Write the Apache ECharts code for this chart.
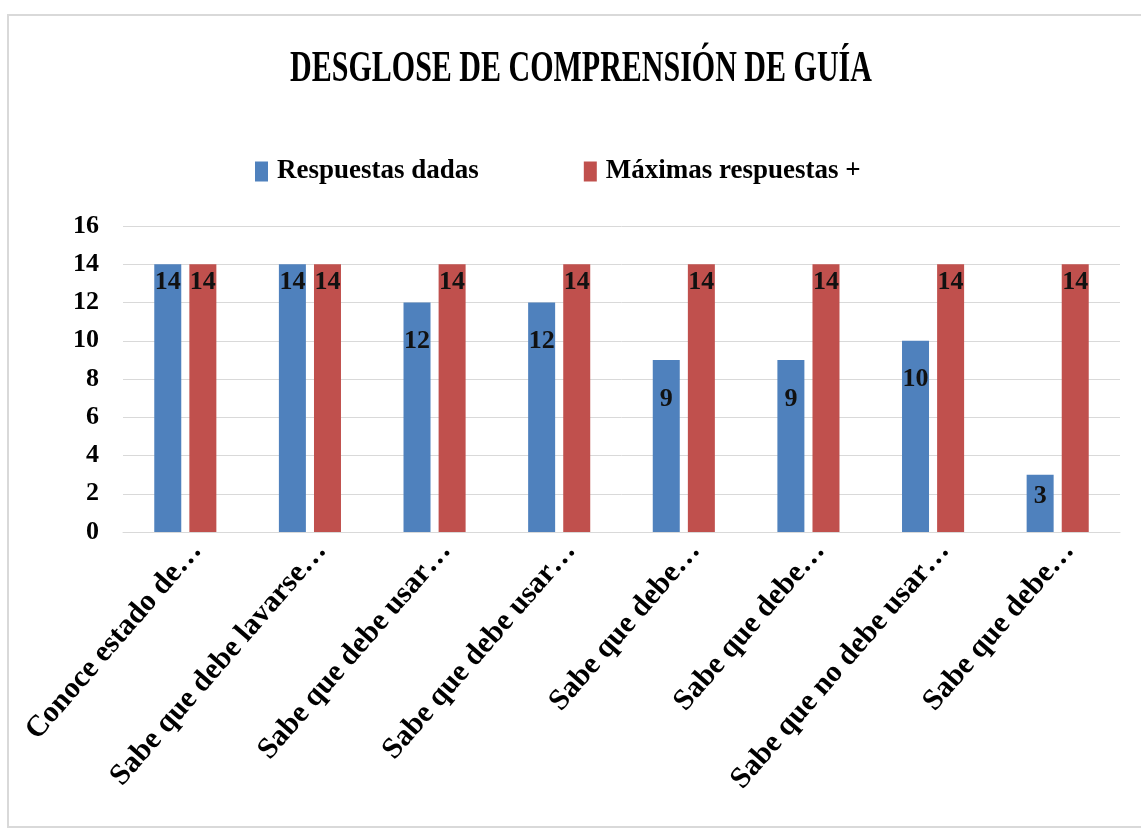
<!DOCTYPE html>
<html>
<head>
<meta charset="utf-8">
<title>Desglose de comprensión de guía</title>
<script src="https://cdn.jsdelivr.net/npm/echarts@6/dist/echarts.min.js"></script>
<style>
  html, body { margin: 0; padding: 0; background: #fff; }
  #chart { width: 1141px; height: 830px; }
</style>
</head>
<body>
<div id="chart"></div>
<script>
const categories = [
  'Conoce estado de…',
  'Sabe que debe lavarse…',
  'Sabe que debe usar…',
  'Sabe que debe usar…',
  'Sabe que debe…',
  'Sabe que debe…',
  'Sabe que no debe usar…',
  'Sabe que debe…'
]
const respuestasDadas = [14, 14, 12, 12, 9, 9, 10, 3]
const maximasRespuestas = [14, 14, 14, 14, 14, 14, 14, 14]
const seriesNames = ['Respuestas dadas', 'Máximas respuestas +']
const titleText = 'DESGLOSE DE COMPRENSIÓN DE GUÍA'

const FONT = '"Liberation Serif", "Times New Roman", serif'
const BLUE = '#4f81bd'
const RED = '#c0504d'

// Excel placed the labels a bit oddly, full bars near the top, the rest lower
const labelDistance = v => (v >= 14 ? 5 : v <= 3 ? 9 : 26)

const labelStyle = {
  show: true,
  position: 'insideTop',
  color: '#111',
  fontFamily: FONT,
  fontWeight: 'bold',
  fontSize: 26
}

const chart = echarts.init(document.getElementById('chart'), null, { renderer: 'canvas' })

chart.setOption({
  backgroundColor: '#fff',
  animation: false,
  graphic: [
    {
      type: 'rect',
      shape: { x: 8, y: 15, width: 1140, height: 812 },
      style: { fill: 'none', stroke: '#d9d9d9', lineWidth: 2 },
      silent: true
    },
    {
      type: 'text',
      x: 581,
      y: 70,
      scaleY: 1.45,
      style: {
        text: titleText,
        fill: '#000',
        font: 'bold 30px ' + FONT,
        textAlign: 'center',
        textVerticalAlign: 'middle'
      },
      silent: true
    }
  ],
  legend: {
    data: seriesNames,
    left: 250,
    top: 153,
    icon: 'rect',
    itemWidth: 13,
    itemHeight: 20,
    itemGap: 105,
    textStyle: {
      color: '#000',
      fontFamily: FONT,
      fontWeight: 'bold',
      fontSize: 27,
      lineHeight: 20,
      padding: [0, 0, 0, 4]
    }
  },
  grid: {
    left: 123,
    right: 21,
    top: 226,
    bottom: 298,
    outerBoundsMode: 'none'
  },
  xAxis: {
    type: 'category',
    data: categories,
    axisLine: { lineStyle: { color: '#d9d9d9', width: 1 } },
    axisTick: { show: false },
    axisLabel: {
      interval: 0,
      rotate: 49,
      margin: 4,
      verticalAlign: 'top',
      color: '#000',
      fontFamily: FONT,
      fontWeight: 'bold',
      fontSize: 30
    }
  },
  yAxis: {
    type: 'value',
    min: 0,
    max: 16,
    interval: 2,
    axisLine: { show: false },
    axisTick: { show: false },
    axisLabel: {
      margin: 24,
      color: '#000',
      fontFamily: FONT,
      fontWeight: 'bold',
      fontSize: 26
    },
    splitLine: { lineStyle: { color: '#d9d9d9', width: 1 } }
  },
  series: [
    {
      name: seriesNames[0],
      type: 'bar',
      barWidth: 27,
      barGap: '30%',
      itemStyle: { color: BLUE },
      label: labelStyle,
      data: respuestasDadas.map(v => ({ value: v, label: { distance: labelDistance(v) } }))
    },
    {
      name: seriesNames[1],
      type: 'bar',
      barWidth: 27,
      barGap: '30%',
      itemStyle: { color: RED },
      label: Object.assign({}, labelStyle, { distance: 5 }),
      data: maximasRespuestas
    }
  ]
})
</script>
</body>
</html>
